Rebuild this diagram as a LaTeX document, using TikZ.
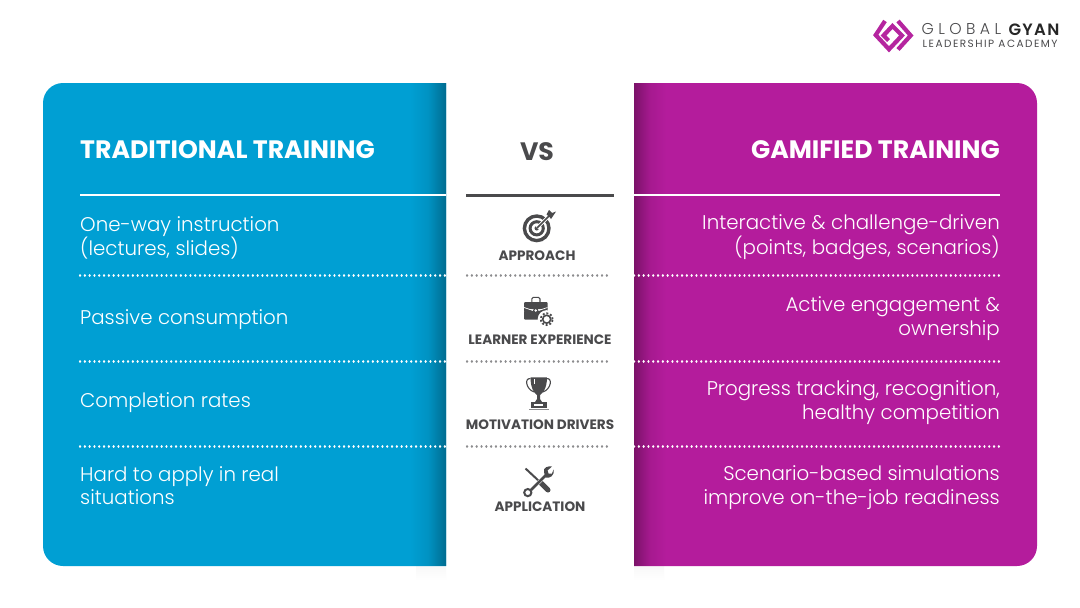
\documentclass[tikz,border=0pt]{standalone}
\usepackage{fontspec}
\setmainfont{Poppins}
\newfontfamily\bodyf{Poppins Light}
\newfontfamily\headf{Poppins Bold}
\newfontfamily\logol[LetterSpace=28]{Poppins Light}
\newfontfamily\logob[LetterSpace=8]{Poppins SemiBold}
\newfontfamily\logos[LetterSpace=14]{Poppins}
\definecolor{cyanp}{HTML}{009FD3}
\definecolor{cyand}{HTML}{006C90}
\definecolor{magp}{HTML}{B41C9C}
\definecolor{magd}{HTML}{7B1269}
\definecolor{darkg}{HTML}{4A4A4C}
\definecolor{dotg}{HTML}{8C8C8E}
\definecolor{logom}{HTML}{B5259F}
\tikzset{
 x=1pt,y=-1pt,
 heading/.style={text=white,inner sep=0pt,font=\headf\fontsize{25.2}{28}\selectfont},
 bodyl/.style={text=white,inner sep=0pt,anchor=west,align=left,font=\bodyf\fontsize{19.8}{23.7}\selectfont},
 bodyr/.style={text=white,inner sep=0pt,anchor=east,align=right,font=\bodyf\fontsize{19.8}{23.7}\selectfont},
 midlabel/.style={text=darkg,inner sep=0pt,font=\headf\fontsize{13.6}{16}\selectfont},
 solidw/.style={draw=white,line width=2.6pt},
 dotw/.style={draw=white,line width=2.3pt,line cap=round,dash pattern=on 0.1pt off 4.7pt},
 dotm/.style={draw=dotg,line width=2.3pt,line cap=round,dash pattern=on 0.1pt off 4.72pt},
}
\begin{document}
\begin{tikzpicture}
\useasboundingbox (0,0) rectangle (1080,608);
\fill[white] (0,0) rectangle (1080,608);
% faint shadows under the panel ends
\shade[top color=black!3,bottom color=white] (416,566) rectangle (446,580);
\shade[top color=black!3,bottom color=white] (634,566) rectangle (664,580);
% panels
\fill[cyanp] (446,83) [rounded corners=20pt] -- (43,83) -- (43,566) [sharp corners] -- (446,566) -- cycle;
\shade[left color=cyanp,right color=cyand,middle color=cyanp!75!cyand] (410,83.4) rectangle (446,565.6);
\fill[magp] (634,83) [rounded corners=20pt] -- (1037,83) -- (1037,566) [sharp corners] -- (634,566) -- cycle;
\shade[left color=magd,right color=magp,middle color=magp!75!magd] (634,83.4) rectangle (666,565.6);
% rules
\draw[solidw] (80,195) -- (446,195);
\draw[solidw] (634,195) -- (1000,195);
\draw[darkg,line width=3pt] (466,195) -- (614,195);
\foreach \y in {275.5,361.5,446.5}{
 \draw[dotw] (80,\y) -- (446,\y);
 \draw[dotw] (634,\y) -- (1000,\y);
 \draw[dotm] (467,\y) -- (610,\y);
}
% headings
\node[heading,anchor=west] (hl) at (80,150) {TRADITIONAL TRAINING};
\node[heading,anchor=east] (hr) at (1000,150) {GAMIFIED TRAINING};
\node[text=darkg,inner sep=0pt,font=\headf\fontsize{25.2}{28}\selectfont] (vs) at (537,151.5) {VS};
% left
\node[bodyl] (l1) at (80,238) {One-way instruction\\(lectures, slides)};
\node[bodyl] (l2) at (80,320) {Passive consumption};
\node[bodyl] (l3) at (80,403) {Completion rates};
\node[bodyl] (l4) at (80,485.5) {Hard to apply in real\\situations};
% right
\node[bodyr] (r1) at (1000,237) {Interactive \& challenge-driven\\(points, badges, scenarios)};
\node[bodyr] (r2) at (1000,318.5) {Active engagement \&\\ownership};
\node[bodyr] (r3) at (1000,402.5) {Progress tracking, recognition,\\healthy competition};
\node[bodyr] (r4) at (1000,487.5) {Scenario-based simulations\\improve on-the-job readiness};
% middle labels
\node[midlabel] (m1) at (537,255.5) {APPROACH};
\node[midlabel] (m2) at (540,339.5) {LEARNER EXPERIENCE};
\node[midlabel] (m3) at (540,424.5) {MOTIVATION DRIVERS};
\node[midlabel] (m4) at (540,506.5) {APPLICATION};
% target icon
\draw[darkg,line width=3.4pt] (536.7,228.3) circle (12.3pt);
\draw[darkg,line width=3pt] (536.7,228.3) circle (6.6pt);
\fill[darkg] (536.7,228.3) circle (2.2pt);
\draw[white,line width=3.4pt] (537,228) -- (550,215);
\draw[darkg,line width=1.5pt] (537,228) -- (550,215);
\fill[darkg] (546.5,214.5) -- (549,210) -- (552,213) -- (556,211.5) -- (553,216) -- (551,219) -- (549.5,217) -- cycle;
% briefcase icon
\draw[darkg,line width=1.1pt,rounded corners=1.5pt] (531.8,302) -- (531.8,297.3) -- (540,297.3) -- (540,302);
\fill[darkg,rounded corners=1pt] (524,302) rectangle (547.5,309);
\fill[darkg,rounded corners=1pt] (524,310.6) rectangle (547.5,319.6);
\fill[darkg] (524,307) -- (534,311.5) -- (538,311.5) -- (547.5,307) -- (547.5,311) -- (524,311) -- cycle;
\draw[white,line width=.7pt] (524,307.5) -- (533,310.5) (538.5,310.5) -- (547.5,307.5);
\fill[darkg] (535.7,310.5) circle (2.6pt);
\fill[white] (535.7,310.5) circle (1.3pt);
\fill[white] (546.7,319.2) circle (9pt);
\draw[darkg,line width=1.8pt,dash pattern=on 1.9pt off 1.9pt] (546.7,319.2) circle (5.9pt);
\draw[darkg,line width=1.6pt] (546.7,319.2) circle (4pt);
% trophy icon
\draw[darkg,line width=1.1pt] (530.5,378.5) .. controls (524,378) and (526,389) .. (534,392);
\draw[darkg,line width=1.1pt] (546.5,378.5) .. controls (553,378) and (551,389) .. (543,392);
\fill[darkg] (530.5,377.3) -- (547,377.3) .. controls (547,388) and (543,393) .. (540,395) -- (540,399) -- (542,402) -- (535,402) -- (537,399) -- (537,395) .. controls (534,393) and (530.5,388) .. (530.5,377.3) -- cycle;
\fill[darkg] (531,402) rectangle (546.5,408);
\fill[white] (534.3,404) rectangle (543.2,406.2);
\draw[dotg,line width=.9pt] (529,409.4) -- (548.5,409.4);
\fill[white] (533.5,378.5) rectangle (534.7,384);
% tools icon
\draw[darkg,line width=2pt] (525.5,468.5) -- (540,482);
\draw[darkg,line width=5pt,line cap=round] (541,483) -- (548,490);
\draw[white,line width=3.6pt] (531,490) -- (547,474);
\draw[darkg,line width=2.6pt] (531,490) -- (547,474);
\draw[darkg,line width=2pt] (527.8,492.6) circle (3.6pt);
\fill[darkg] (544,472) .. controls (543,467) and (548,466) .. (552,466.5) -- (547.5,470.5) -- (548.5,473.5) -- (552,473.5) -- (553.5,469.5) .. controls (555,475) and (550,479) .. (545.5,477.5) -- cycle;
% logo
\draw[logom,line width=4.2pt,miter limit=6] (885,21) -- (875.7,35) -- (889,49.3) -- (902,35.5) -- (892.5,26) -- (883.5,35.5) -- (888.5,40.5);
\draw[logom,line width=4.2pt,miter limit=6] (898,21) -- (910.7,35.5) -- (898,49.5);
\node[inner sep=0pt,anchor=west,text=darkg,font=\logol\fontsize{15.7}{18}\selectfont] (lg1) at (921.5,29.5) {GLOBAL};
\node[inner sep=0pt,anchor=east,text=black!85,font=\logob\fontsize{16.4}{18}\selectfont] (lg2) at (1059.5,29.5) {GYAN};
\node[inner sep=0pt,anchor=west,text=darkg,font=\logos\fontsize{10.5}{12}\selectfont] (lg3) at (922.5,43.5) {LEADERSHIP ACADEMY};
\end{tikzpicture}
\end{document}
